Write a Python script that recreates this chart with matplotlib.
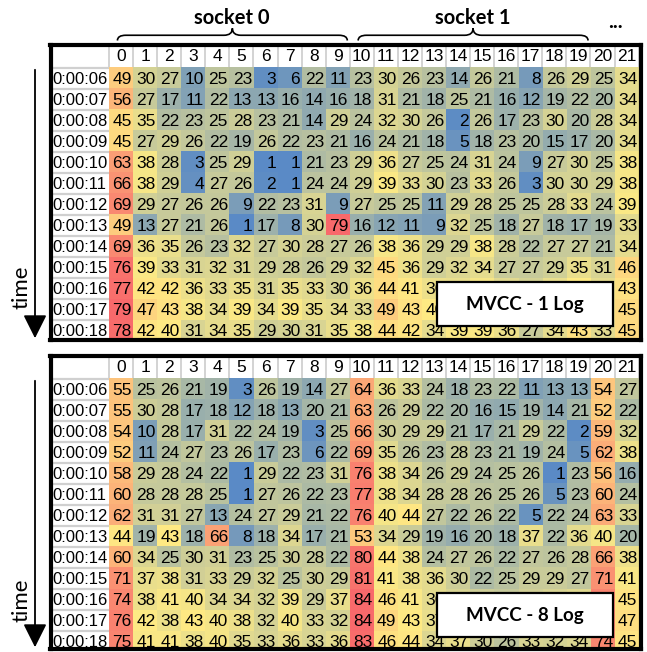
import matplotlib
matplotlib.use('Agg')
import matplotlib.pyplot as plt
import numpy as np
from matplotlib.colors import LinearSegmentedColormap, Normalize
from matplotlib.patches import Rectangle, FancyArrowPatch, PathPatch
from matplotlib.path import Path

# per-core log activity, one row per second
times = ['0:00:06', '0:00:07', '0:00:08', '0:00:09', '0:00:10', '0:00:11', '0:00:12',
         '0:00:13', '0:00:14', '0:00:15', '0:00:16', '0:00:17', '0:00:18']
cores = list(range(22))

log1 = np.array([
    [49, 30, 27, 10, 25, 23, 3, 6, 22, 11, 23, 30, 26, 23, 14, 26, 21, 8, 26, 29, 25, 34],
    [56, 27, 17, 11, 22, 13, 13, 16, 14, 16, 18, 31, 21, 18, 25, 21, 16, 12, 19, 22, 20, 34],
    [45, 35, 22, 23, 25, 28, 23, 21, 14, 29, 24, 32, 30, 26, 2, 26, 17, 23, 30, 20, 28, 34],
    [45, 27, 29, 26, 22, 19, 26, 22, 23, 21, 16, 24, 21, 18, 5, 18, 23, 20, 15, 17, 20, 34],
    [63, 38, 28, 3, 25, 29, 1, 1, 21, 23, 29, 36, 27, 25, 24, 31, 24, 9, 27, 30, 25, 38],
    [66, 38, 29, 4, 27, 26, 2, 1, 24, 24, 29, 39, 33, 30, 23, 33, 26, 3, 30, 30, 29, 38],
    [69, 29, 27, 26, 26, 9, 22, 23, 31, 9, 27, 25, 25, 11, 29, 28, 25, 25, 28, 33, 24, 39],
    [49, 13, 27, 21, 26, 1, 17, 8, 30, 79, 16, 12, 11, 9, 32, 25, 18, 27, 18, 17, 19, 33],
    [69, 36, 35, 26, 23, 32, 27, 30, 28, 27, 26, 38, 36, 29, 29, 38, 28, 22, 27, 27, 21, 34],
    [76, 39, 33, 31, 32, 31, 29, 28, 26, 29, 32, 45, 36, 29, 32, 34, 27, 27, 29, 35, 31, 46],
    [77, 42, 42, 36, 33, 35, 31, 35, 33, 30, 36, 44, 41, 36, 35, 38, 33, 30, 35, 40, 34, 43],
    [79, 47, 43, 38, 34, 39, 34, 39, 35, 34, 33, 49, 43, 40, 36, 39, 35, 29, 36, 42, 35, 45],
    [78, 42, 40, 31, 34, 35, 29, 30, 31, 35, 38, 44, 42, 34, 39, 39, 36, 27, 34, 43, 33, 45],
])

log8 = np.array([
    [55, 25, 26, 21, 19, 3, 26, 19, 14, 27, 64, 36, 33, 24, 18, 23, 22, 11, 13, 13, 54, 27],
    [55, 30, 28, 17, 18, 12, 18, 13, 20, 21, 63, 26, 29, 22, 20, 16, 15, 19, 14, 21, 52, 22],
    [54, 10, 28, 17, 31, 22, 24, 19, 3, 25, 66, 30, 29, 29, 21, 17, 21, 29, 22, 2, 59, 32],
    [52, 11, 24, 27, 23, 26, 17, 23, 6, 22, 69, 35, 26, 23, 28, 23, 21, 19, 24, 5, 62, 38],
    [58, 29, 28, 24, 22, 1, 29, 22, 23, 31, 76, 38, 34, 26, 29, 24, 25, 26, 1, 23, 56, 16],
    [60, 28, 28, 28, 25, 1, 27, 26, 22, 23, 77, 38, 34, 28, 28, 26, 25, 26, 5, 23, 60, 24],
    [62, 31, 31, 27, 13, 24, 27, 29, 21, 22, 76, 40, 44, 27, 22, 26, 22, 5, 22, 24, 63, 33],
    [44, 19, 43, 18, 66, 8, 18, 34, 17, 21, 53, 34, 29, 19, 16, 20, 18, 37, 22, 36, 40, 20],
    [60, 34, 25, 30, 31, 23, 25, 30, 28, 22, 80, 44, 38, 24, 27, 26, 22, 27, 26, 28, 66, 38],
    [71, 37, 38, 31, 33, 29, 32, 25, 30, 29, 81, 41, 38, 36, 30, 22, 25, 29, 29, 27, 71, 41],
    [74, 38, 41, 40, 34, 34, 32, 39, 29, 37, 84, 46, 41, 36, 33, 30, 28, 31, 33, 35, 75, 45],
    [76, 42, 38, 43, 40, 38, 32, 40, 33, 32, 84, 49, 43, 37, 35, 31, 27, 32, 34, 36, 76, 47],
    [75, 41, 41, 38, 40, 35, 33, 36, 33, 36, 83, 46, 44, 34, 37, 30, 26, 33, 32, 34, 74, 45],
])

sockets = [('socket 0', 0, 9), ('socket 1', 10, 19)]

NUM_FONT = 'Liberation Sans'
LABEL_FONT = 'Lato'
GRID = '#D0D0D0'

excel_cmap = LinearSegmentedColormap.from_list('excel3', ['#5A8AC6', '#FFEB84', '#F8696B'])

W, H = 647, 652
fig = plt.figure(figsize=(W / 100, H / 100), dpi=100)

# legend box that sits over the lower right of each panel (data units)
BOX_X0, BOX_Y0, BOX_W, BOX_H = 13.13, 9.70, 7.31, 2.08


def px_axes(left, top, right, bottom):
    return fig.add_axes([left / W, 1 - bottom / H, (right - left) / W, (bottom - top) / H])


def hidden_by_box(i, j):
    # cell labels that sit completely under the legend box are not drawn
    return 13 < j < 21 and BOX_Y0 + 0.3 < i < BOX_Y0 + BOX_H - 0.3


def draw_panel(ax, data, title, ybottom):
    n_rows, n_cols = data.shape
    norm = Normalize(vmin=data.min(), vmax=data.max())
    ax.imshow(data, cmap=excel_cmap, norm=norm, aspect='auto', interpolation='nearest',
              extent=(-0.5, n_cols - 0.5, n_rows - 0.5, -0.5), zorder=1)
    ax.set_xlim(-2.93, 21.6)
    ax.set_ylim(ybottom, -1.61)

    for i in range(n_rows):
        for j in range(n_cols):
            if hidden_by_box(i, j):
                continue
            ax.text(j + 0.44, i + 0.06, str(data[i, j]), ha='right', va='center',
                    fontsize=12.5, family=NUM_FONT, zorder=2)
        ax.text(-2.87, i + 0.06, times[i], ha='left', va='center',
                fontsize=12, family=NUM_FONT, zorder=2)
    for j in cores:
        ax.text(j, -1.03, str(j), ha='center', va='center', fontsize=12.5,
                family=NUM_FONT, zorder=2)

    # light separators in the header row and the time column
    ax.vlines(np.arange(-0.5, n_cols), -1.7, -0.5, color=GRID, lw=1.3, zorder=0.5)
    ax.hlines(np.arange(-0.5, n_rows), -2.93, -0.5, color=GRID, lw=1.6, zorder=0.5)

    ax.set_xticks([])
    ax.set_yticks([])
    for s in ax.spines.values():
        s.set_linewidth(3)
        s.set_color('black')
        s.set_zorder(6)

    ax.add_patch(Rectangle((BOX_X0, BOX_Y0), BOX_W, BOX_H, facecolor='white',
                           edgecolor='black', lw=1.6, zorder=5))
    ax.text(BOX_X0 + BOX_W / 2, BOX_Y0 + BOX_H / 2 + 0.02, title, ha='center', va='center',
            fontsize=13.5, fontweight='bold', family=LABEL_FONT, zorder=6)


def time_arrow(y0, y1, ytext):
    fig.add_artist(FancyArrowPatch((35 / W, 1 - y0 / H), (35 / W, 1 - y1 / H),
                                   transform=fig.transFigure,
                                   arrowstyle='-|>,head_length=1.2,head_width=0.6',
                                   mutation_scale=12, color='black', lw=1.3))
    fig.text(21 / W, 1 - ytext / H, 'time', rotation=90, ha='center', va='center',
             fontsize=16, family=LABEL_FONT)


def brace(ax, x0, x1, y_end, y_mid, y_tip):
    xm = (x0 + x1) / 2
    r = 0.35
    verts = [(x0, y_end), (x0, y_mid), (x0 + r, y_mid),
             (xm - r, y_mid), (xm, y_mid), (xm, y_tip),
             (xm, y_mid), (xm + r, y_mid),
             (x1 - r, y_mid), (x1, y_mid), (x1, y_end)]
    codes = [Path.MOVETO, Path.CURVE3, Path.CURVE3,
             Path.LINETO, Path.CURVE3, Path.CURVE3,
             Path.CURVE3, Path.CURVE3,
             Path.LINETO, Path.CURVE3, Path.CURVE3]
    ax.add_patch(PathPatch(Path(verts, codes), facecolor='none', edgecolor='black',
                           lw=1.2, clip_on=False, zorder=7))


ax_top = px_axes(50.5, 44.5, 641, 340)
draw_panel(ax_top, log1, 'MVCC - 1 Log', 12.46)

ax_bot = px_axes(50.5, 355.7, 641, 649)
draw_panel(ax_bot, log8, 'MVCC - 8 Log', 12.37)

for name, c0, c1 in sockets:
    brace(ax_top, c0 - 0.15, c1 + 0.4, -1.80, -2.05, -2.38)
    ax_top.text((c0 + c1) / 2 + 0.1, -2.85, name, ha='center', va='center',
                fontsize=14.5, fontweight='bold', family=LABEL_FONT, clip_on=False)
ax_top.text(20.52, -2.68, '...', ha='center', va='center', fontsize=15,
            fontweight='bold', family=LABEL_FONT, clip_on=False)

time_arrow(67, 341, 287)
time_arrow(378, 650, 600)

fig.savefig('out.png', dpi=100)
